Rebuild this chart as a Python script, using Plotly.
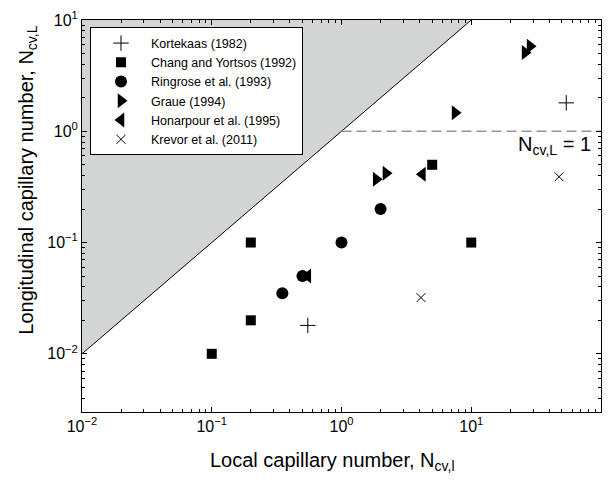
import plotly.graph_objects as go

# ---- data ----
kort_x = [0.55, 54]
kort_y = [0.018, 1.8]
chang_x = [0.1, 0.2, 0.2, 5.0, 10]
chang_y = [0.01, 0.02, 0.1, 0.5, 0.1]
ring_x = [0.35, 0.5, 1.0, 2.0]
ring_y = [0.035, 0.05, 0.1, 0.2]
graue_x = [1.85, 2.2, 7.5, 26, 28.4]
graue_y = [0.37, 0.42, 1.47, 5.1, 5.8]
hon_x = [0.55, 4.2]
hon_y = [0.05, 0.41]
krev_x = [4.1, 47.5]
krev_y = [0.032, 0.39]

# shaded region (N_cv,L > N_cv,l) and reference line
region_x = [0.01, 10, 0.01, 0.01]
region_y = [0.01, 10, 10, 0.01]
diag_x = [0.01, 10]
diag_y = [0.01, 10]
limit_x = [1, 100]
limit_y = [1, 1]

x_tickvals = [0.01, 0.1, 1, 10, 100]
x_ticktext = ["10<sup>\u22122</sup>", "10<sup>\u22121</sup>", "10<sup>0</sup>", "10<sup>1</sup>", "10<sup>2</sup>"]
y_tickvals = [0.01, 0.1, 1, 10]
y_ticktext = ["10<sup>\u22122</sup>", "10<sup>\u22121</sup>", "10<sup>0</sup>", "10<sup>1</sup>"]

x_minor = [m * 10 ** e for e in range(-2, 2) for m in range(2, 10)]
y_minor = [m * 10 ** e for e in range(-3, 1) for m in range(2, 10) if m * 10 ** e >= 0.003]

FONT = "Liberation Sans, Arial, sans-serif"

fig = go.Figure()
fig.add_trace(go.Scatter(x=region_x, y=region_y, mode="lines", fill="toself",
                         fillcolor="rgb(211,212,212)", line=dict(width=0),
                         showlegend=False, hoverinfo="skip"))
fig.add_trace(go.Scatter(x=diag_x, y=diag_y, mode="lines",
                         line=dict(color="black", width=1), showlegend=False))
fig.add_trace(go.Scatter(x=limit_x, y=limit_y, mode="lines",
                         line=dict(color="rgb(150,150,150)", width=1.5, dash="10px,5px"),
                         showlegend=False))

def add_series(x, y, name, symbol, size, line_w=0):
    fig.add_trace(go.Scatter(
        x=x, y=y, mode="markers", name=name,
        marker=dict(symbol=symbol, size=size, color="black",
                    line=dict(color="black", width=line_w))))

add_series(kort_x, kort_y, "Kortekaas (1982)", "cross-thin", 11, 1)
add_series(chang_x, chang_y, "Chang and Yortsos (1992)", "square", 10)
add_series(ring_x, ring_y, "Ringrose et al. (1993)", "circle", 12)
add_series(graue_x, graue_y, "Graue (1994)", "triangle-right", 13)
add_series(hon_x, hon_y, "Honarpour et al. (1995)", "triangle-left", 13)
add_series(krev_x, krev_y, "Krevor et al. (2011)", "x-thin", 9, 1)

fig.add_annotation(x=0.985, y=0.68, xref="paper", yref="paper",
                   text="N<sub>cv,L</sub> = 1", showarrow=False,
                   xanchor="right", yanchor="middle",
                   font=dict(size=20, color="black", family=FONT))

# axis titles as annotations for precise placement
fig.add_annotation(x=0.483, y=-0.126, xref="paper", yref="paper",
                   text="Local capillary number, N<sub>cv,l</sub>", showarrow=False,
                   xanchor="center", yanchor="middle",
                   font=dict(size=20, color="black", family=FONT))
fig.add_annotation(x=-0.104, y=0.59, xref="paper", yref="paper", textangle=-90,
                   text="Longitudinal capillary number, N<sub>cv,L</sub>", showarrow=False,
                   xanchor="center", yanchor="middle",
                   font=dict(size=20, color="black", family=FONT))

axis_common = dict(showline=True, linecolor="black", linewidth=1, mirror="ticks",
                   ticks="inside", ticklen=5, tickcolor="black", showgrid=False,
                   zeroline=False, tickfont=dict(size=16, color="black", family=FONT))

fig.update_xaxes(type="log", range=[-2, 2], tickmode="array",
                 tickvals=x_tickvals, ticktext=x_ticktext,
                 minor=dict(tickmode="array", tickvals=x_minor, ticks="inside",
                            ticklen=3, tickcolor="black", showgrid=False),
                 **axis_common)
fig.update_yaxes(type="log", range=[-2.5229, 1], tickmode="array",
                 tickvals=y_tickvals, ticktext=y_ticktext,
                 minor=dict(tickmode="array", tickvals=y_minor, ticks="inside",
                            ticklen=3, tickcolor="black", showgrid=False),
                 **axis_common)

fig.update_layout(
    width=611, height=482,
    margin=dict(l=82, r=9, t=15, b=70),
    paper_bgcolor="white", plot_bgcolor="white",
    font=dict(family=FONT, color="black"),
    legend=dict(x=0.0154, y=0.981, xanchor="left", yanchor="top",
                bgcolor="white", bordercolor="black", borderwidth=1,
                font=dict(size=12.5, color="black", family=FONT),
                itemwidth=50, tracegroupgap=0),
)

fig.write_html("out.html")
